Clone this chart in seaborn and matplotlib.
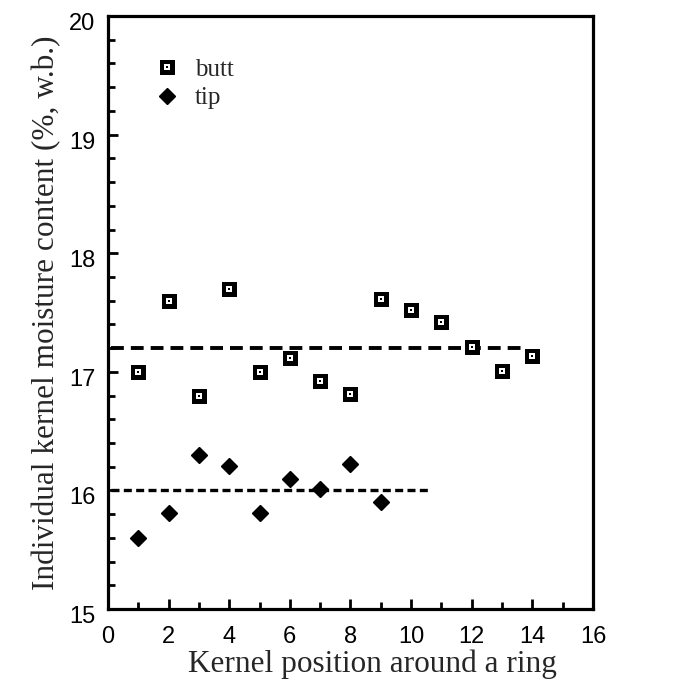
import pandas as pd
import seaborn as sns
import matplotlib.pyplot as plt
from matplotlib.ticker import MultipleLocator
from matplotlib.transforms import ScaledTranslation
from matplotlib.legend_handler import HandlerTuple

# data
butt_pos = list(range(1, 15))
butt_mc = [17.0, 17.6, 16.8, 17.7, 17.0, 17.12, 16.92, 16.81, 17.61, 17.52, 17.42, 17.21, 17.01, 17.13]
tip_pos = list(range(1, 10))
tip_mc = [15.6, 15.81, 16.3, 16.21, 15.81, 16.1, 16.01, 16.22, 15.9]

# mean lines (x span, level)
butt_mean_x = [0.1, 13.8]
butt_mean = 17.2
tip_mean_x = [0.1, 10.6]
tip_mean = 16.0

sns.set_style("ticks")
serif = ["Liberation Serif", "DejaVu Serif"]
sans = ["Liberation Sans", "DejaVu Sans"]

fig = plt.figure(figsize=(6.78, 6.82), dpi=100)
ax = fig.add_axes([0.1593, 0.107, 0.7153, 0.8695])

df_butt = pd.DataFrame({"pos": butt_pos, "mc": butt_mc})
df_tip = pd.DataFrame({"pos": tip_pos, "mc": tip_mc})

sns.lineplot(x=butt_mean_x, y=[butt_mean] * 2, ax=ax, color="black", lw=2.8,
             linestyle=(0, (3.3, 1.8)), zorder=2)
sns.lineplot(x=tip_mean_x, y=[tip_mean] * 2, ax=ax, color="black", lw=2.4,
             linestyle=(0, (2.4, 1.3)), zorder=2)

# butt: black square with a white hole and a dot in the middle
b1, = ax.plot(df_butt["pos"], df_butt["mc"], ls="none", marker="s", ms=10.8,
              mfc="black", mec="black", mew=0, zorder=3)
b2, = ax.plot(df_butt["pos"], df_butt["mc"], ls="none", marker="s", ms=4.2,
              mfc="white", mec="white", mew=0, zorder=4)
b3, = ax.plot(df_butt["pos"], df_butt["mc"], ls="none", marker="s", ms=1.6,
              mfc="black", mec="black", mew=0, zorder=5)
t1, = ax.plot(df_tip["pos"], df_tip["mc"], ls="none", marker="D", ms=8.3,
              mfc="black", mec="black", mew=1, zorder=3)

ax.set_xlim(0, 16)
ax.set_ylim(15, 20)
ax.xaxis.set_major_locator(MultipleLocator(2))
ax.xaxis.set_minor_locator(MultipleLocator(1))
ax.yaxis.set_major_locator(MultipleLocator(1))
ax.yaxis.set_minor_locator(MultipleLocator(0.2))
ax.tick_params(which="both", direction="in", width=2, colors="black")
ax.tick_params(which="major", length=7.5, labelsize=17)
ax.tick_params(axis="x", which="major", pad=12)
ax.tick_params(axis="y", which="major", pad=9)
ax.tick_params(which="minor", length=5)
shift = ScaledTranslation(0, -4 / 72, fig.dpi_scale_trans)
for lab in ax.get_xticklabels() + ax.get_yticklabels():
    lab.set_family(sans)
for lab in ax.get_yticklabels():
    lab.set_transform(lab.get_transform() + shift)

for s in ax.spines.values():
    s.set_linewidth(2.3)
    s.set_color("black")

ax.set_xlabel("Kernel position around a ring", family=serif, fontsize=22.5,
              labelpad=1.5, x=0.546)
ax.set_ylabel("Individual kernel moisture content (%, w.b.)", family=serif,
              fontsize=22.5, labelpad=6)

ax.legend([(b1, b2, b3), t1], ["butt", "tip"], loc="upper left",
          bbox_to_anchor=(0.05, 0.967), frameon=False,
          prop={"family": serif, "size": 18}, handletextpad=0.6,
          labelspacing=0.25, handlelength=1.0,
          handler_map={tuple: HandlerTuple(ndivide=1)})

fig.savefig("out.png", dpi=100)
